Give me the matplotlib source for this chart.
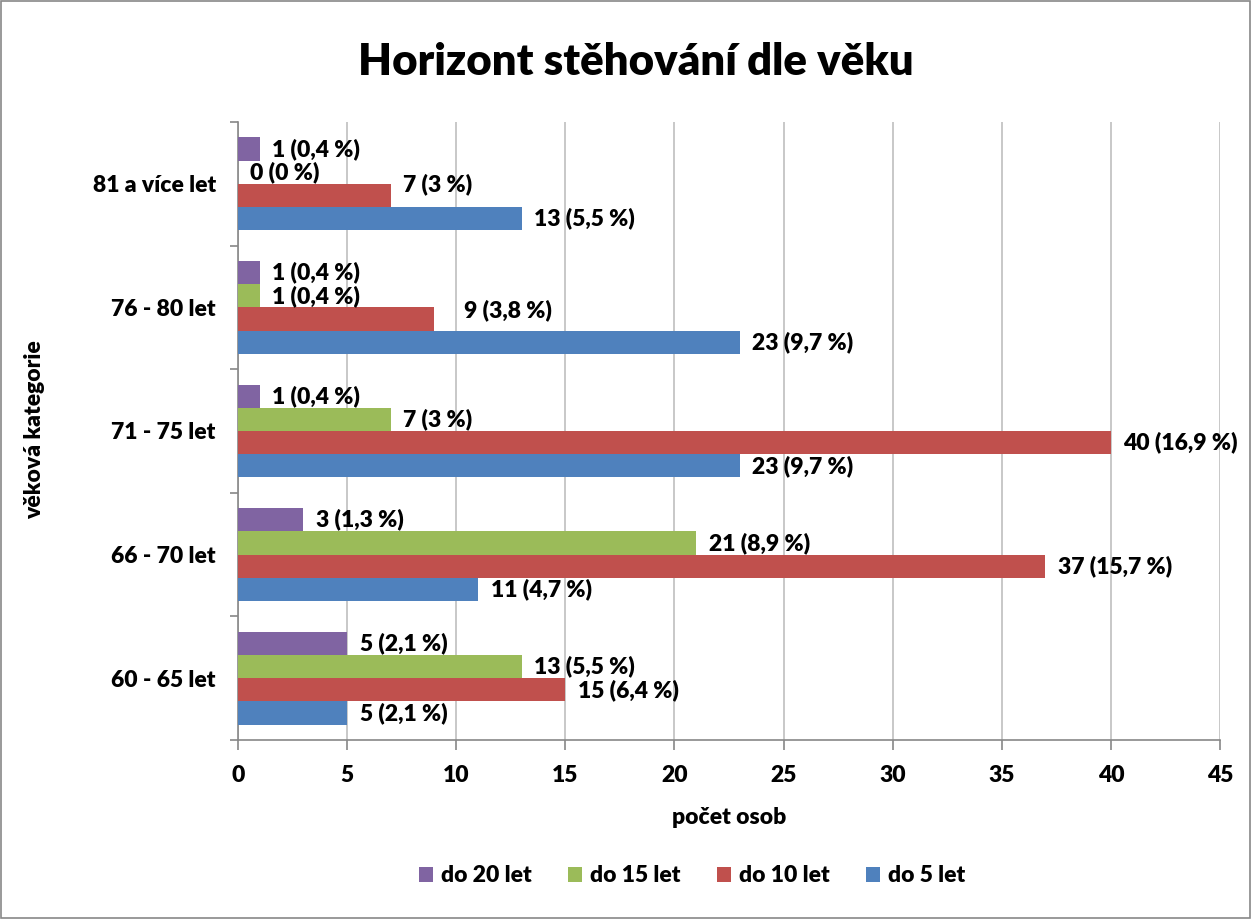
import matplotlib
matplotlib.use("Agg")
import matplotlib.pyplot as plt
import numpy as np
from matplotlib.patches import Rectangle

categories = ["60 - 65 let", "66 - 70 let", "71 - 75 let", "76 - 80 let", "81 a více let"]
series_names = ["do 5 let", "do 10 let", "do 15 let", "do 20 let"]
do5 = [5, 11, 23, 23, 13]
do10 = [15, 37, 40, 9, 7]
do15 = [13, 21, 7, 1, 0]
do20 = [5, 3, 1, 1, 1]
pct5 = ["2,1", "4,7", "9,7", "9,7", "5,5"]
pct10 = ["6,4", "15,7", "16,9", "3,8", "3"]
pct15 = ["5,5", "8,9", "3", "0,4", "0"]
pct20 = ["2,1", "1,3", "0,4", "0,4", "0,4"]

values = [do5, do10, do15, do20]
pcts = [pct5, pct10, pct15, pct20]
colors = ["#4F81BD", "#C0504D", "#9BBB59", "#8064A2"]

plt.rcParams['font.family'] = ['Lato', 'DejaVu Sans']
W = "heavy"
FS = 16.5

fig = plt.figure(figsize=(12.51, 9.19), dpi=100)
ax = fig.add_axes([238/1251, 1-740/919, (1220-238)/1251, (740-122)/919])

y = np.arange(len(categories))
h = 0.188
offsets = [-1.5*h, -0.5*h, 0.5*h, 1.5*h]
# label nudges (points) for crowded labels: (series index, category index)
nudge = {(1, 3): 6, (1, 4): 8}
xnudge = {(1, 3): 12}

handles = []
for i, (vals, pc, col, name) in enumerate(zip(values, pcts, colors, series_names)):
    b = ax.barh(y + offsets[i], vals, height=h, color=col, label=name, zorder=3)
    handles.append(b)
    for j, (v, p) in enumerate(zip(vals, pc)):
        dy = nudge.get((i, j), 0)
        dx = 9 + xnudge.get((i, j), 0)
        ax.annotate(f"{v} ({p} %)", xy=(v, y[j] + offsets[i]), xytext=(dx, dy),
                    textcoords="offset points", va="center", ha="left",
                    fontsize=FS, fontweight=W, color="black", zorder=4)

ax.set_xlim(0, 45)
ax.set_ylim(-0.5, len(categories) - 0.5)
ax.set_xticks(np.arange(0, 46, 5))
ax.set_yticks(np.arange(-0.5, len(categories), 1.0))
ax.set_yticklabels([])
ax.set_yticks(y, minor=True)
ax.set_yticklabels(categories, minor=True)
ax.tick_params(axis='y', which='minor', length=0, pad=16, labelsize=FS)
ax.tick_params(axis='y', which='major', length=6, color="#888888", width=1.2)
ax.tick_params(axis='x', length=7, color="#888888", width=1.2, labelsize=FS, pad=11)
for lab in ax.get_xticklabels() + ax.get_yticklabels(minor=True):
    lab.set_fontweight(W)
ax.grid(axis='x', color="#BFBFBF", linewidth=1.2, zorder=0)
ax.set_axisbelow(True)
for s in ["top", "right"]:
    ax.spines[s].set_visible(False)
for s in ["left", "bottom"]:
    ax.spines[s].set_color("#888888")
    ax.spines[s].set_linewidth(1.2)

fig.text(636/1251, 1-62/919, "Horizont stěhování dle věku", ha="center", va="center",
         fontsize=31.5, fontweight=W)
fig.text(729/1251, 1-817/919, "počet osob", ha="center", va="center",
         fontsize=FS, fontweight=W)
fig.text(35/1251, 1-430/919, "věková kategorie", ha="center", va="center",
         rotation=90, fontsize=FS, fontweight=W)

leg = fig.legend(handles[::-1], series_names[::-1], loc="center",
                 bbox_to_anchor=(692/1251, 1-876/919), ncol=4, frameon=False,
                 prop={'size': FS, 'weight': W}, handlelength=0.6,
                 handleheight=0.6, handletextpad=0.35, columnspacing=1.6)

fig.patches.append(Rectangle((0.001, 0.001), 0.998, 0.998, transform=fig.transFigure,
                             fill=False, edgecolor="#888888", linewidth=1.2))

fig.savefig("out.png", dpi=100, facecolor="white")
